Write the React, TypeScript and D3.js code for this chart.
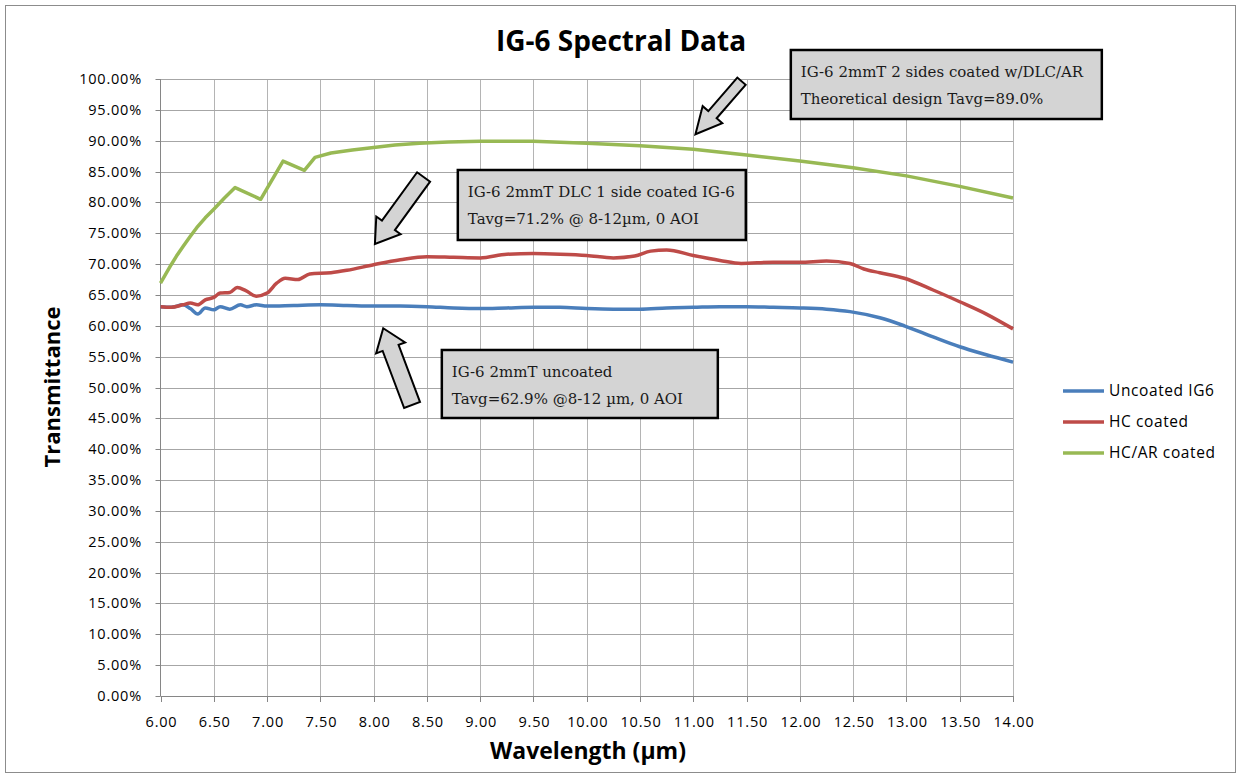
import React from 'react';
import * as d3 from 'd3';

// wavelength (µm) / transmittance (%)
const uncoatedWl = [6.0, 6.1, 6.21, 6.28, 6.35, 6.42, 6.5, 6.56, 6.65, 6.75, 6.81, 6.9, 7.0, 7.25, 7.5, 7.75, 8.0, 8.25, 8.5, 8.75, 9.0, 9.25, 9.5, 9.75, 10.0, 10.25, 10.5, 10.75, 11.0, 11.25, 11.5, 11.75, 12.0, 12.25, 12.47, 12.75, 12.98, 13.25, 13.5, 13.75, 14.0];
const uncoatedT = [63.1, 63.0, 63.4, 62.8, 61.9, 62.9, 62.6, 63.1, 62.7, 63.4, 63.1, 63.4, 63.2, 63.3, 63.4, 63.3, 63.2, 63.2, 63.1, 62.9, 62.8, 62.9, 63.0, 63.0, 62.8, 62.7, 62.7, 62.9, 63.0, 63.1, 63.1, 63.0, 62.9, 62.7, 62.3, 61.3, 60.0, 58.2, 56.6, 55.3, 54.1];

const hcWl = [6.0, 6.1, 6.21, 6.28, 6.35, 6.42, 6.5, 6.56, 6.65, 6.72, 6.8, 6.9, 7.0, 7.09, 7.17, 7.29, 7.4, 7.6, 7.75, 8.0, 8.25, 8.5, 8.75, 9.0, 9.25, 9.5, 9.75, 10.0, 10.25, 10.45, 10.6, 10.75, 11.0, 11.25, 11.45, 11.75, 12.0, 12.25, 12.47, 12.6, 12.75, 12.98, 13.25, 13.5, 13.75, 14.0];
const hcT = [63.1, 63.0, 63.4, 63.7, 63.4, 64.2, 64.6, 65.3, 65.4, 66.2, 65.7, 64.8, 65.3, 66.9, 67.7, 67.5, 68.4, 68.6, 69.0, 69.9, 70.7, 71.2, 71.1, 71.0, 71.6, 71.7, 71.6, 71.4, 71.0, 71.3, 72.1, 72.3, 71.4, 70.6, 70.1, 70.3, 70.3, 70.5, 70.1, 69.2, 68.6, 67.7, 65.8, 63.9, 61.9, 59.5];

const arWl = [6.0, 6.05, 6.1, 6.15, 6.21, 6.28, 6.34, 6.42, 6.5, 6.6, 6.7, 6.94, 7.15, 7.35, 7.45, 7.6, 7.8, 8.0, 8.2, 8.43, 8.7, 9.0, 9.5, 10.0, 10.5, 11.0, 11.5, 12.0, 12.5, 13.0, 13.5, 14.0];
const arT = [66.9, 68.4, 69.9, 71.3, 72.8, 74.5, 75.9, 77.5, 78.9, 80.7, 82.4, 80.5, 86.7, 85.2, 87.3, 88.0, 88.5, 88.9, 89.3, 89.6, 89.8, 89.9, 89.9, 89.6, 89.2, 88.6, 87.7, 86.7, 85.6, 84.3, 82.6, 80.7];

const seriesNames = ['Uncoated IG6', 'HC coated', 'HC/AR coated'];
const seriesColors = ['#4a7ebb', '#be4b48', '#98b954'];

const xTicks = d3.range(6, 14.001, 0.5);
const yTicks = d3.range(0, 1.0001, 0.05);

// callouts, anchored in data units
const notes = [
  { wl: 11.915, t: 1.047, w: 311, h: 69, lines: ['IG-6 2mmT 2 sides coated w/DLC/AR', 'Theoretical design Tavg=89.0%'] },
  { wl: 8.79, t: 0.8525, w: 288, h: 70, lines: ['IG-6 2mmT DLC 1 side coated IG-6', 'Tavg=71.2% @ 8-12µm, 0 AOI'] },
  { wl: 8.64, t: 0.5608, w: 276, h: 68, lines: ['IG-6 2mmT uncoated', 'Tavg=62.9% @8-12 µm, 0 AOI'] },
];
const arrows = [
  { tip: [11.02, 0.9104], tail: [11.452, 0.9964], shaft: 11, head: 26, headLen: 26 },
  { tip: [8.012, 0.7326], tail: [8.469, 0.8412], shaft: 16, head: 30, headLen: 23 },
  { tip: [8.09, 0.596], tail: [8.361, 0.4716], shaft: 17, head: 31, headLen: 21 },
];

const W = 1241;
const H = 778;
const sansFont = '"Open Sans", sans-serif';

function arrowPath(tx, ty, sx, sy, shaft, head, headLen) {
  const dx = tx - sx;
  const dy = ty - sy;
  const len = Math.hypot(dx, dy);
  const ux = dx / len, uy = dy / len;
  const nx = -uy, ny = ux;
  const bx = tx - ux * headLen, by = ty - uy * headLen;
  const pts = [
    [sx + nx * shaft / 2, sy + ny * shaft / 2],
    [bx + nx * shaft / 2, by + ny * shaft / 2],
    [bx + nx * head / 2, by + ny * head / 2],
    [tx, ty],
    [bx - nx * head / 2, by - ny * head / 2],
    [bx - nx * shaft / 2, by - ny * shaft / 2],
    [sx - nx * shaft / 2, sy - ny * shaft / 2],
  ];
  return 'M' + pts.map(p => p.join(',')).join('L') + 'Z';
}

export default function App() {
  const x = d3.scaleLinear().domain([6, 14]).range([160.5, 1013]);
  const y = d3.scaleLinear().domain([0, 1]).range([696, 79]);

  const smooth = d3.line()
    .x(d => x(d[0]))
    .y(d => y(d[1] / 100))
    .curve(d3.curveMonotoneX);
  const straight = d3.line()
    .x(d => x(d[0]))
    .y(d => y(d[1] / 100));

  const series = [
    smooth(d3.zip(uncoatedWl, uncoatedT)),
    smooth(d3.zip(hcWl, hcT)),
    straight(d3.zip(arWl, arT)),
  ];

  return (
    <div style={{ position: 'absolute', left: 0, top: 0 }}>
      <svg width={W} height={H} style={{ display: 'block', background: '#fff' }}>
        <rect x={5.5} y={5.5} width={1230} height={767} fill="#fff" stroke="#8c8c8c" strokeWidth={1} />

        {/* title */}
        <text x={621} y={51} textAnchor="middle" fontFamily={sansFont} fontWeight="bold" fontSize={28} fill="#000">
          IG-6 Spectral Data
        </text>

        {/* grid */}
        {xTicks.slice(1).map(t => (
          <line key={'gx' + t} x1={Math.round(x(t)) + 0.5} x2={Math.round(x(t)) + 0.5} y1={y(1)} y2={y(0)} stroke="#b4b4b4" />
        ))}
        {yTicks.slice(1).map(t => (
          <line key={'gy' + t} x1={x(6)} x2={x(14)} y1={Math.round(y(t)) + 0.5} y2={Math.round(y(t)) + 0.5} stroke="#a6a6a6" />
        ))}

        {/* axes */}
        <line x1={x(6)} x2={x(6)} y1={y(1)} y2={y(0)} stroke="#868686" />
        <line x1={x(6)} x2={x(14)} y1={Math.round(y(0)) + 0.5} y2={Math.round(y(0)) + 0.5} stroke="#868686" />
        {yTicks.map(t => (
          <g key={'ty' + t}>
            <line x1={x(6) - 5} x2={x(6)} y1={Math.round(y(t)) + 0.5} y2={Math.round(y(t)) + 0.5} stroke="#868686" />
            <text x={142} y={y(t) + 5} textAnchor="end" fontFamily={sansFont} fontSize={14.5} letterSpacing={0.8} fill="#000">
              {d3.format('.2%')(t)}
            </text>
          </g>
        ))}
        {xTicks.map(t => (
          <g key={'tx' + t}>
            <line x1={Math.round(x(t)) + 0.5} x2={Math.round(x(t)) + 0.5} y1={y(0)} y2={y(0) + 6} stroke="#868686" />
            <text x={x(t) + 1} y={727} textAnchor="middle" fontFamily={sansFont} fontSize={14.5} letterSpacing={0.8} fill="#000">
              {d3.format('.2f')(t)}
            </text>
          </g>
        ))}

        {/* axis titles */}
        <text transform={`translate(60,${387}) rotate(-90)`} textAnchor="middle" fontFamily={sansFont} fontWeight="bold" fontSize={22} fill="#000">
          Transmittance
        </text>
        <text x={588} y={759} textAnchor="middle" fontFamily={sansFont} fontWeight="bold" fontSize={23} fill="#000">
          Wavelength (µm)
        </text>

        {/* series */}
        {series.map((d, i) => (
          <path key={'s' + i} d={d} fill="none" stroke={seriesColors[i]} strokeWidth={3.5} strokeLinejoin="round" />
        ))}

        {/* callouts */}
        {arrows.map((a, i) => (
          <path key={'a' + i}
            d={arrowPath(x(a.tip[0]), y(a.tip[1]), x(a.tail[0]), y(a.tail[1]), a.shaft, a.head, a.headLen)}
            fill="#d4d4d4" stroke="#000" strokeWidth={2} strokeLinejoin="miter" />
        ))}
        {notes.map((n, i) => (
          <g key={'n' + i} transform={`translate(${x(n.wl)},${y(n.t)})`}>
            <rect width={n.w} height={n.h} fill="#d4d4d4" stroke="#000" strokeWidth={2.5} />
            {n.lines.map((l, j) => (
              <text key={j} x={10} y={27 + j * 27} fontFamily='"DejaVu Serif", serif' fontSize={15} fill="#1a1a1a">{l}</text>
            ))}
          </g>
        ))}

        {/* legend */}
        {seriesNames.map((name, i) => (
          <g key={'l' + i} transform={`translate(1063,${391 + i * 31})`}>
            <line x1={0} x2={41} y1={0} y2={0} stroke={seriesColors[i]} strokeWidth={3.5} />
            <text x={46} y={5} fontFamily={sansFont} fontSize={15.5} letterSpacing={0.6} fill="#000">{name}</text>
          </g>
        ))}
      </svg>
    </div>
  );
}
